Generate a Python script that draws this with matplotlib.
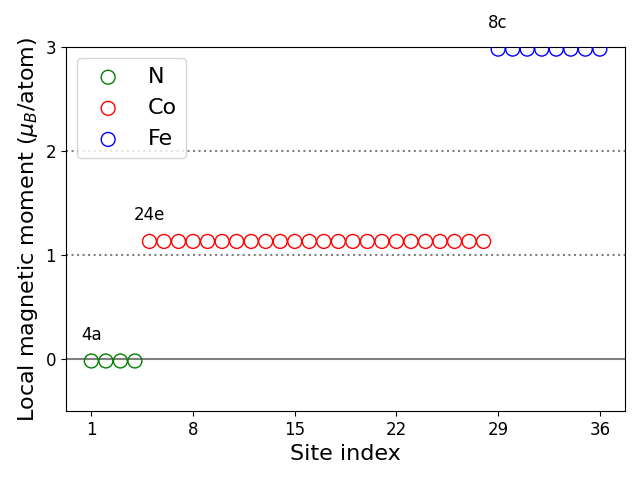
import matplotlib
matplotlib.use("Agg")
import matplotlib.pyplot as plt
import numpy as np

n_sites = [1, 2, 3, 4]
n_mom = [-0.02, -0.02, -0.02, -0.02]
co_sites = list(range(5, 29))
co_mom = [1.13] * 24
fe_sites = list(range(29, 37))
fe_mom = [2.98] * 8
xticks = [1, 8, 15, 22, 29, 36]
labels = [("4a", 1, 0.23), ("24e", 5, 1.38), ("8c", 29, 3.23)]

fig, ax = plt.subplots(figsize=(6.4, 4.8), dpi=100)
ax.axhline(0, color="gray", lw=1.5, zorder=1)
ax.axhline(1, color="gray", lw=1.5, ls=":", zorder=1)
ax.axhline(2, color="gray", lw=1.5, ls=":", zorder=1)
ax.scatter(n_sites, n_mom, s=100, facecolors="none", edgecolors="green", label="N", zorder=3)
ax.scatter(co_sites, co_mom, s=100, facecolors="none", edgecolors="red", label="Co", zorder=3)
ax.scatter(fe_sites, fe_mom, s=100, facecolors="none", edgecolors="blue", label="Fe", zorder=3)
for t, x, y in labels:
    ax.text(x, y, t, fontsize=12, ha="center", va="center")
ax.set_xticks(xticks)
ax.set_yticks([0, 1, 2, 3])
ax.set_ylim(-0.5, 3)
ax.tick_params(labelsize=12)
ax.set_xlabel("Site index", fontsize=16)
ax.set_ylabel(r"Local magnetic moment ($\mu_B$/atom)", fontsize=16)
ax.legend(loc="upper left", fontsize=16)
fig.subplots_adjust(left=0.103, right=0.977, top=0.902, bottom=0.144)
fig.savefig("out.png")
